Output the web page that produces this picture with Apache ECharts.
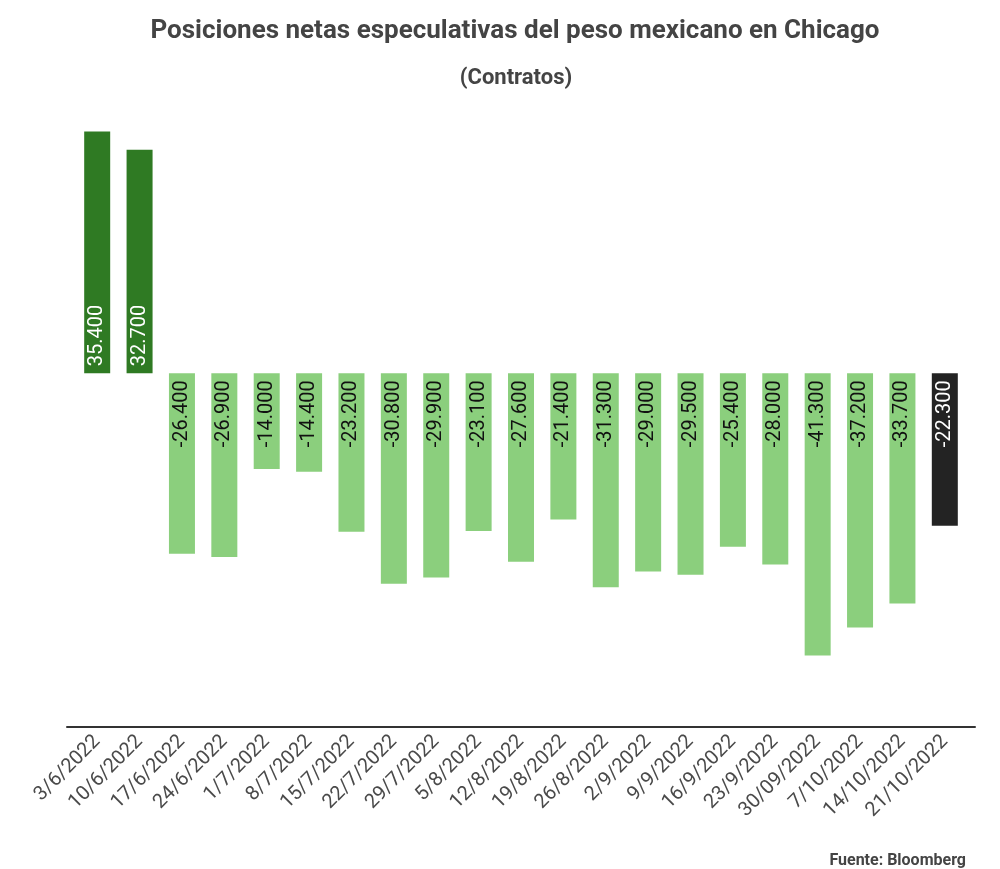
<!DOCTYPE html>
<html>
<head>
<meta charset="utf-8">
<script src="https://cdn.jsdelivr.net/npm/echarts@6/dist/echarts.min.js"></script>
<style>
  html, body { margin: 0; padding: 0; background: #fff; }
  #chart { width: 1000px; height: 869px; }
</style>
</head>
<body>
<div id="chart"></div>
<script>
// fechas (semanas)
var fechas = ['3/6/2022', '10/6/2022', '17/6/2022', '24/6/2022', '1/7/2022', '8/7/2022',
    '15/7/2022', '22/7/2022', '29/7/2022', '5/8/2022', '12/8/2022', '19/8/2022',
    '26/8/2022', '2/9/2022', '9/9/2022', '16/9/2022', '23/9/2022', '30/09/2022',
    '7/10/2022', '14/10/2022', '21/10/2022'];
// miles de contratos
var posiciones = [35.4, 32.7, -26.4, -26.9, -14.0, -14.4, -23.2, -30.8, -29.9, -23.1,
    -27.6, -21.4, -31.3, -29.0, -29.5, -25.4, -28.0, -41.3, -37.2, -33.7, -22.3];

var fontName = 'Roboto, "Noto Sans", sans-serif';

var datos = posiciones.map(function (v, i) {
    var ultimo = i === posiciones.length - 1;
    var color = v >= 0 ? '#2f7a23' : (ultimo ? '#232323' : '#8bcf7d');
    var txt = (ultimo || v >= 0) ? '#ffffff' : '#111111';
    return {
        value: v,
        itemStyle: { color: color },
        label: {
            show: true,
            rotate: 90,
            position: v >= 0 ? 'insideBottom' : 'insideTop',
            align: v >= 0 ? 'left' : 'right',
            verticalAlign: 'middle',
            distance: 7,
            color: txt,
            fontSize: 20,
            fontFamily: fontName,
            formatter: function (p) {
                // 35.4 -> 35.400
                return p.value.toFixed(1) + '00';
            }
        }
    };
});

var myChart = echarts.init(document.getElementById('chart'));
var option = {
    backgroundColor: '#ffffff',
    animation: false,
    title: [
        {
            text: 'Posiciones netas especulativas del peso mexicano en Chicago',
            left: 510, top: 13, textAlign: 'center',
            textStyle: { fontFamily: fontName, fontSize: 26, fontWeight: 'bold', color: '#444444' }
        },
        {
            text: '(Contratos)',
            left: 511, top: 62, textAlign: 'center',
            textStyle: { fontFamily: fontName, fontSize: 22, fontWeight: 'bold', color: '#444444' }
        },
        {
            text: 'Fuente: Bloomberg',
            right: 29, top: 848,
            textStyle: { fontFamily: fontName, fontSize: 16, fontWeight: 'bold', color: '#444444' }
        }
    ],
    grid: [
        { left: 76, right: 34, top: 100, bottom: 142.5 },
        // solo para la linea base, algo mas ancha que las categorias
        { left: 67, right: 25, top: 100, bottom: 142.5 }
    ],
    xAxis: [
        {
            type: 'category',
            gridIndex: 0,
            data: fechas,
            axisLine: { show: false },
            axisTick: { show: false },
            axisLabel: {
                interval: 0,
                rotate: 45,
                margin: 12,
                color: '#4a4a4a',
                fontSize: 20,
                fontFamily: fontName
            }
        },
        {
            type: 'value',
            gridIndex: 1,
            min: 0, max: 1,
            axisLine: { show: true, lineStyle: { color: '#333333', width: 2 } },
            axisTick: { show: false },
            axisLabel: { show: false },
            splitLine: { show: false }
        }
    ],
    yAxis: [
        {
            type: 'value',
            gridIndex: 0,
            min: -51.7, max: 40,
            show: false,
            splitLine: { show: false }
        },
        {
            type: 'value',
            gridIndex: 1,
            min: 0, max: 1,
            show: false
        }
    ],
    series: [
        {
            name: 'Posiciones',
            type: 'bar',
            xAxisIndex: 0,
            yAxisIndex: 0,
            barWidth: 26,
            data: datos
        }
    ]
};
myChart.setOption(option);
</script>
</body>
</html>
